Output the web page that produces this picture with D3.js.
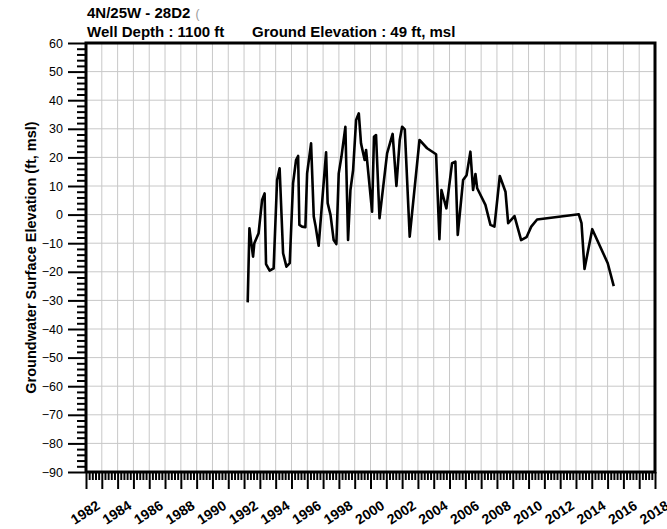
<!DOCTYPE html>
<html>
<head>
<meta charset="utf-8">
<script src="https://cdn.jsdelivr.net/npm/d3@7"></script>
<style>
  body { margin: 0; background: #fff; }
  svg text { font-family: "Liberation Sans", Arial, sans-serif; }
</style>
</head>
<body>
<svg id="chart" width="667" height="529"></svg>
<script>
// measurement dates (decimal years) and water level (ft, msl)
const dates = [
  1992.23, 1992.34, 1992.57, 1992.65, 1992.92, 1993.14, 1993.30, 1993.39, 1993.62, 1993.87,
  1994.09, 1994.25, 1994.47, 1994.68, 1994.89, 1995.10, 1995.29, 1995.42, 1995.50, 1995.67,
  1995.88, 1995.99, 1996.24, 1996.41, 1996.53, 1996.72, 1997.19, 1997.29, 1997.47, 1997.67,
  1997.84, 1997.99, 1998.16, 1998.41, 1998.58, 1998.73, 1998.90, 1999.09, 1999.26, 1999.40,
  1999.63, 1999.72, 2000.10, 2000.22, 2000.35, 2000.57, 2001.05, 2001.40, 2001.64, 2001.85,
  2002.00, 2002.17, 2002.48, 2003.10, 2003.58, 2004.15, 2004.36, 2004.49, 2004.80, 2005.16,
  2005.37, 2005.52, 2005.86, 2006.08, 2006.32, 2006.49, 2006.64, 2006.75, 2007.27, 2007.59,
  2007.84, 2008.18, 2008.54, 2008.71, 2009.11, 2009.53, 2009.87, 2010.17, 2010.54, 2013.18,
  2013.35, 2013.54, 2014.03, 2015.01, 2015.39
];
const levels = [
  -30.7, -4.8, -14.7, -10.0, -6.5, 5.1, 7.4, -17.3, -19.6, -18.8,
  12.1, 16.2, -13.5, -18.2, -17.0, 10.9, 19.1, 20.5, -3.6, -4.2,
  -4.4, 14.4, 24.9, -0.7, -4.2, -10.9, 21.8, 4.0, -0.1, -8.9,
  -10.3, 14.4, 20.2, 30.7, -8.9, 8.6, 15.6, 33.1, 35.4, 24.9,
  19.1, 22.6, 1.0, 27.2, 27.8, -1.3, 21.4, 28.2, 10.0, 26.1,
  30.7, 29.8, -7.7, 26.1, 23.2, 21.1, -8.6, 8.6, 2.2, 18.0,
  18.5, -7.1, 12.1, 13.8, 22.0, 8.6, 14.2, 9.2, 3.4, -3.6,
  -4.2, 13.5, 8.0, -3.0, -0.5, -8.9, -7.9, -4.2, -1.7, 0.1,
  -3.0, -19.0, -5.1, -17.0, -25.0
];
const yearTicks = d3.range(1982, 2019, 1);
const yearLabels = d3.range(1982, 2019, 2);
const levelTicks = d3.range(-90, 61, 10);

const titleLine1 = '4N/25W - 28D2';
const depthText = 'Well Depth : 1100 ft';
const elevText = 'Ground Elevation : 49 ft, msl';
const yTitle = 'Groundwater Surface Elevation (ft, msl)';

const margin = {left: 86, right: 12, top: 43, bottom: 57};
const svg = d3.select('#chart');
const W = +svg.attr('width'), H = +svg.attr('height');
const x = d3.scaleLinear().domain([1982, 2018]).range([margin.left, W - margin.right]);
const y = d3.scaleLinear().domain([-90, 60]).range([H - margin.bottom, margin.top]);

// grid
svg.append('g')
  .selectAll('line')
  .data(yearTicks)
  .join('line')
  .attr('x1', d => x(d)).attr('x2', d => x(d))
  .attr('y1', y(60)).attr('y2', y(-90))
  .attr('stroke', '#c8c8c8').attr('stroke-width', 1);
svg.append('g')
  .selectAll('line')
  .data(levelTicks)
  .join('line')
  .attr('x1', x(1982)).attr('x2', x(2018))
  .attr('y1', d => y(d)).attr('y2', d => y(d))
  .attr('stroke', '#c8c8c8').attr('stroke-width', 1);

// y axis: major ticks every 10, minor every 2
const yAxis = svg.append('g').attr('transform', `translate(${x(1982)},0)`);
yAxis.call(d3.axisLeft(y).tickValues(d3.range(-90, 61, 2).filter(v => v % 10 !== 0))
  .tickSize(9).tickFormat(''));
yAxis.append('g').call(d3.axisLeft(y).tickValues(levelTicks).tickSize(18).tickPadding(5));
yAxis.selectAll('path.domain').remove();
yAxis.selectAll('line').attr('stroke', '#000').attr('stroke-width', 2);
yAxis.selectAll('text').attr('font-size', 12.5).attr('fill', '#000');

// x axis: major ticks every year, minor every 0.2 year
const xAxis = svg.append('g').attr('transform', `translate(0,${y(-90)})`);
xAxis.call(d3.axisBottom(x).tickValues(d3.range(0, 180).map(i => 1982 + i * 0.2).filter(v => Math.abs(v - Math.round(v)) > 0.01))
  .tickSize(8).tickFormat(''));
xAxis.append('g').call(d3.axisBottom(x).tickValues(yearTicks).tickSize(17).tickFormat(''));
xAxis.selectAll('path.domain').remove();
xAxis.selectAll('line').attr('stroke', '#000').attr('stroke-width', 2);

svg.append('g')
  .selectAll('text')
  .data(yearLabels)
  .join('text')
  .attr('transform', d => `translate(${x(d) + 15},${y(-90) + 36}) rotate(-33)`)
  .attr('text-anchor', 'end')
  .attr('font-size', 14)
  .attr('font-weight', 'bold')
  .text(d => d);

// frame
svg.append('path')
  .attr('d', `M${x(1982)},${y(-90)}V${y(60)}H${x(2018)}V${y(-90)}H${x(1982)}`)
  .attr('fill', 'none').attr('stroke', '#000').attr('stroke-width', 3);

// series
const pts = dates.map((d, i) => [d, levels[i]]);
svg.append('path')
  .datum(pts)
  .attr('d', d3.line().x(d => x(d[0])).y(d => y(d[1])))
  .attr('fill', 'none').attr('stroke', '#000').attr('stroke-width', 2.6)
  .attr('stroke-linejoin', 'round');

// titles
const tx = x(1982) + 1;
const t1 = svg.append('text').attr('x', tx).attr('y', 18).attr('font-size', 15).attr('font-weight', 'bold').text(titleLine1);
svg.append('text').attr('x', tx + t1.node().getComputedTextLength() + 5).attr('y', 18)
  .attr('font-size', 12).attr('fill', '#999').text('(');
svg.append('text').attr('x', tx).attr('y', 37).attr('font-size', 15).attr('font-weight', 'bold').text(depthText);
svg.append('text').attr('x', tx + 165).attr('y', 37).attr('font-size', 15).attr('font-weight', 'bold').text(elevText);
svg.append('text')
  .attr('transform', `translate(36,${(y(60) + y(-90)) / 2}) rotate(-90)`)
  .attr('text-anchor', 'middle')
  .attr('font-size', 14.5).attr('font-weight', 'bold')
  .text(yTitle);
</script>
</body>
</html>
